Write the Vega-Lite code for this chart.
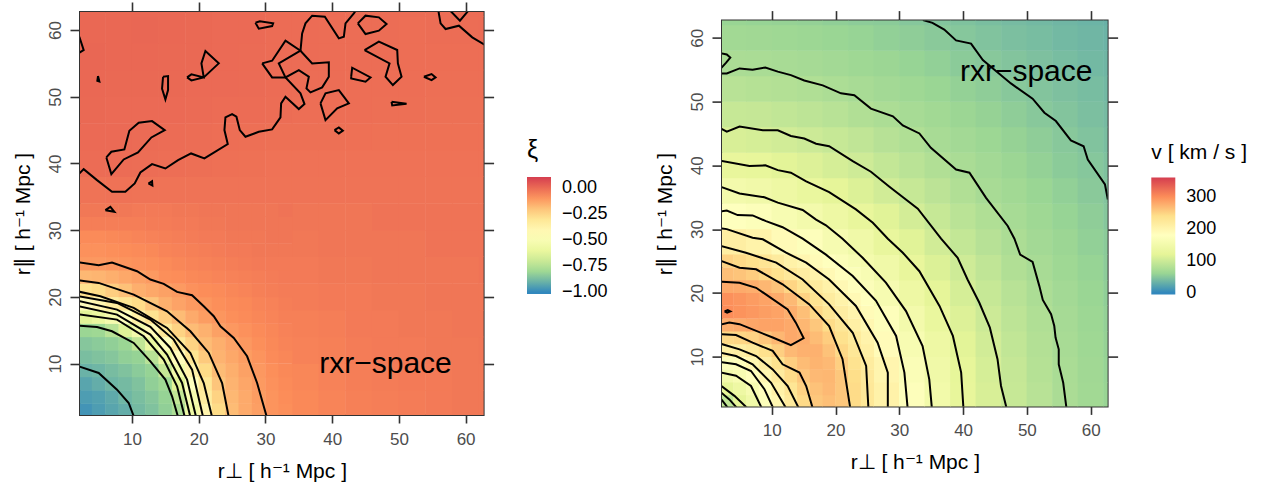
{"$schema":"https://vega.github.io/schema/vega-lite/v6.json","padding":{"left":11,"top":0,"right":0,"bottom":0},"background":"white","resolve":{"scale":{"color":"independent"},"legend":{"color":"independent"}},"hconcat":[{"width":403.6,"height":403,"layer":[
{"data":{"values":[
{"x":4,"y":36,"v":-0.015},{"x":8,"y":36,"v":-0.012},{"x":12,"y":36,"v":-0.015},{"x":16,"y":36,"v":-0.015},{"x":20,"y":36,"v":-0.015},{"x":24,"y":36,"v":-0.015},{"x":28,"y":36,"v":-0.015},{"x":32,"y":36,"v":-0.015},{"x":36,"y":36,"v":-0.015},{"x":40,"y":36,"v":-0.015},{"x":44,"y":36,"v":-0.015},{"x":48,"y":36,"v":-0.015},{"x":52,"y":36,"v":-0.015},{"x":56,"y":36,"v":-0.015},{"x":60,"y":36,"v":-0.015},{"x":64,"y":36,"v":-0.015},
{"x":4,"y":40,"v":0.002},{"x":8,"y":40,"v":0.002},{"x":12,"y":40,"v":0},{"x":16,"y":40,"v":-0.002},{"x":20,"y":40,"v":-0.005},{"x":24,"y":40,"v":-0.008},{"x":28,"y":40,"v":-0.01},{"x":32,"y":40,"v":-0.012},{"x":36,"y":40,"v":-0.012},{"x":40,"y":40,"v":-0.012},{"x":44,"y":40,"v":-0.012},{"x":48,"y":40,"v":-0.012},{"x":52,"y":40,"v":-0.012},{"x":56,"y":40,"v":-0.012},{"x":60,"y":40,"v":-0.012},{"x":64,"y":40,"v":-0.012},
{"x":4,"y":44,"v":0.008},{"x":8,"y":44,"v":0.006},{"x":12,"y":44,"v":0.004},{"x":16,"y":44,"v":0.003},{"x":20,"y":44,"v":0},{"x":24,"y":44,"v":-0.002},{"x":28,"y":44,"v":-0.005},{"x":32,"y":44,"v":-0.006},{"x":36,"y":44,"v":-0.006},{"x":40,"y":44,"v":-0.006},{"x":44,"y":44,"v":-0.008},{"x":48,"y":44,"v":-0.01},{"x":52,"y":44,"v":-0.01},{"x":56,"y":44,"v":-0.01},{"x":60,"y":44,"v":-0.01},{"x":64,"y":44,"v":-0.01},
{"x":4,"y":48,"v":0.01},{"x":8,"y":48,"v":0.008},{"x":12,"y":48,"v":0.008},{"x":16,"y":48,"v":0.006},{"x":20,"y":48,"v":0.004},{"x":24,"y":48,"v":0.003},{"x":28,"y":48,"v":0.002},{"x":32,"y":48,"v":0},{"x":36,"y":48,"v":-0.002},{"x":40,"y":48,"v":-0.002},{"x":44,"y":48,"v":-0.003},{"x":48,"y":48,"v":-0.005},{"x":52,"y":48,"v":-0.005},{"x":56,"y":48,"v":-0.006},{"x":60,"y":48,"v":-0.006},{"x":64,"y":48,"v":-0.006},
{"x":4,"y":52,"v":0.012},{"x":8,"y":52,"v":0.01},{"x":12,"y":52,"v":0.01},{"x":16,"y":52,"v":0.01},{"x":20,"y":52,"v":0.008},{"x":24,"y":52,"v":0.006},{"x":28,"y":52,"v":0.004},{"x":32,"y":52,"v":0.002},{"x":36,"y":52,"v":0},{"x":40,"y":52,"v":0},{"x":44,"y":52,"v":-0.002},{"x":48,"y":52,"v":-0.002},{"x":52,"y":52,"v":-0.003},{"x":56,"y":52,"v":-0.004},{"x":60,"y":52,"v":-0.004},{"x":64,"y":52,"v":-0.004},
{"x":4,"y":56,"v":0.014},{"x":8,"y":56,"v":0.012},{"x":12,"y":56,"v":0.012},{"x":16,"y":56,"v":0.01},{"x":20,"y":56,"v":0.01},{"x":24,"y":56,"v":0.006},{"x":28,"y":56,"v":0.004},{"x":32,"y":56,"v":0.003},{"x":36,"y":56,"v":0.002},{"x":40,"y":56,"v":0},{"x":44,"y":56,"v":0},{"x":48,"y":56,"v":-0.001},{"x":52,"y":56,"v":-0.002},{"x":56,"y":56,"v":-0.002},{"x":60,"y":56,"v":-0.002},{"x":64,"y":56,"v":-0.002},
{"x":4,"y":60,"v":0.012},{"x":8,"y":60,"v":0.012},{"x":12,"y":60,"v":0.014},{"x":16,"y":60,"v":0.012},{"x":20,"y":60,"v":0.01},{"x":24,"y":60,"v":0.006},{"x":28,"y":60,"v":0.006},{"x":32,"y":60,"v":0.003},{"x":36,"y":60,"v":0.002},{"x":40,"y":60,"v":0},{"x":44,"y":60,"v":0},{"x":48,"y":60,"v":0},{"x":52,"y":60,"v":-0.002},{"x":56,"y":60,"v":-0.001},{"x":60,"y":60,"v":0},{"x":64,"y":60,"v":0.002},
{"x":4,"y":64,"v":0.01},{"x":8,"y":64,"v":0.01},{"x":12,"y":64,"v":0.012},{"x":16,"y":64,"v":0.012},{"x":20,"y":64,"v":0.01},{"x":24,"y":64,"v":0.006},{"x":28,"y":64,"v":0.006},{"x":32,"y":64,"v":0.003},{"x":36,"y":64,"v":0.002},{"x":40,"y":64,"v":0.002},{"x":44,"y":64,"v":0},{"x":48,"y":64,"v":0},{"x":52,"y":64,"v":0},{"x":56,"y":64,"v":0},{"x":60,"y":64,"v":0.003},{"x":64,"y":64,"v":0.003},
{"x":36,"y":4,"v":-0.065},{"x":40,"y":4,"v":-0.055},{"x":44,"y":4,"v":-0.045},{"x":48,"y":4,"v":-0.04},{"x":52,"y":4,"v":-0.035},{"x":56,"y":4,"v":-0.03},{"x":60,"y":4,"v":-0.025},{"x":64,"y":4,"v":-0.025},
{"x":36,"y":8,"v":-0.06},{"x":40,"y":8,"v":-0.05},{"x":44,"y":8,"v":-0.04},{"x":48,"y":8,"v":-0.035},{"x":52,"y":8,"v":-0.03},{"x":56,"y":8,"v":-0.03},{"x":60,"y":8,"v":-0.025},{"x":64,"y":8,"v":-0.025},
{"x":36,"y":12,"v":-0.05},{"x":40,"y":12,"v":-0.045},{"x":44,"y":12,"v":-0.035},{"x":48,"y":12,"v":-0.03},{"x":52,"y":12,"v":-0.03},{"x":56,"y":12,"v":-0.025},{"x":60,"y":12,"v":-0.025},{"x":64,"y":12,"v":-0.02},
{"x":36,"y":16,"v":-0.045},{"x":40,"y":16,"v":-0.04},{"x":44,"y":16,"v":-0.03},{"x":48,"y":16,"v":-0.03},{"x":52,"y":16,"v":-0.025},{"x":56,"y":16,"v":-0.025},{"x":60,"y":16,"v":-0.02},{"x":64,"y":16,"v":-0.02},
{"x":36,"y":20,"v":-0.035},{"x":40,"y":20,"v":-0.03},{"x":44,"y":20,"v":-0.03},{"x":48,"y":20,"v":-0.025},{"x":52,"y":20,"v":-0.025},{"x":56,"y":20,"v":-0.02},{"x":60,"y":20,"v":-0.02},{"x":64,"y":20,"v":-0.02},
{"x":36,"y":24,"v":-0.03},{"x":40,"y":24,"v":-0.025},{"x":44,"y":24,"v":-0.025},{"x":48,"y":24,"v":-0.02},{"x":52,"y":24,"v":-0.02},{"x":56,"y":24,"v":-0.02},{"x":60,"y":24,"v":-0.02},{"x":64,"y":24,"v":-0.015},
{"x":36,"y":28,"v":-0.025},{"x":40,"y":28,"v":-0.02},{"x":44,"y":28,"v":-0.02},{"x":48,"y":28,"v":-0.02},{"x":52,"y":28,"v":-0.02},{"x":56,"y":28,"v":-0.015},{"x":60,"y":28,"v":-0.015},{"x":64,"y":28,"v":-0.015},
{"x":36,"y":32,"v":-0.02},{"x":40,"y":32,"v":-0.02},{"x":44,"y":32,"v":-0.02},{"x":48,"y":32,"v":-0.015},{"x":52,"y":32,"v":-0.015},{"x":56,"y":32,"v":-0.015},{"x":60,"y":32,"v":-0.015},{"x":64,"y":32,"v":-0.015}
]},"mark":{"type":"rect","width":27.2,"height":27.2,"clip":true},"encoding":{
"x":{"field":"x","type":"quantitative","scale":{"domain":[2.2,62.7],"nice":false,"zero":false},"axis":{"orient":"bottom","values":[10,20,30,40,50,60],"title":"r⊥ [ h⁻¹ Mpc ]","tickSize":8,"labelPadding":8,"titlePadding":13}},
"y":{"field":"y","type":"quantitative","scale":{"domain":[2.3,62.7],"nice":false,"zero":false},"axis":{"orient":"left","values":[10,20,30,40,50,60],"title":"r∥ [ h⁻¹ Mpc ]","labelAngle":-90,"labelAlign":"center","labelBaseline":"bottom","labelPadding":6,"titlePadding":13}},
"color":{"field":"v","type":"quantitative","scale":{"domain":[-1.017,-1,-0.815,-0.63,-0.445,-0.26,-0.075,0.11],"range":["#3288bd","#3288bd","#99d594","#e6f598","#ffffbf","#fee08b","#fc8d59","#d53e4f"],"interpolate":"rgb"},"legend":{"orient":"none","legendX":447,"legendY":126,"title":"ξ","values":[-1,-0.75,-0.5,-0.25,0],"format":".2f","gradientLength":117,"gradientThickness":24,"titleFontSize":25,"titleFontWeight":"normal","titlePadding":14,"labelFontSize":18,"labelColor":"#000000","titleColor":"#000000","labelOffset":11,"labelOverlap":false,"labelBaseline":"middle","titleFont":"Liberation Sans","labelFont":"Liberation Sans"}}}},
{"data":{"values":[
{"x":3,"y":3,"v":-0.97},{"x":5,"y":3,"v":-0.95},{"x":7,"y":3,"v":-0.93},{"x":9,"y":3,"v":-0.91},{"x":11,"y":3,"v":-0.88},{"x":13,"y":3,"v":-0.86},{"x":15,"y":3,"v":-0.83},{"x":17,"y":3,"v":-0.77},{"x":19,"y":3,"v":-0.57},{"x":21,"y":3,"v":-0.38},{"x":23,"y":3,"v":-0.25},{"x":25,"y":3,"v":-0.18},{"x":27,"y":3,"v":-0.14},{"x":29,"y":3,"v":-0.115},{"x":31,"y":3,"v":-0.09},{"x":33,"y":3,"v":-0.08},
{"x":3,"y":5,"v":-0.95},{"x":5,"y":5,"v":-0.94},{"x":7,"y":5,"v":-0.92},{"x":9,"y":5,"v":-0.89},{"x":11,"y":5,"v":-0.87},{"x":13,"y":5,"v":-0.85},{"x":15,"y":5,"v":-0.82},{"x":17,"y":5,"v":-0.72},{"x":19,"y":5,"v":-0.52},{"x":21,"y":5,"v":-0.33},{"x":23,"y":5,"v":-0.23},{"x":25,"y":5,"v":-0.17},{"x":27,"y":5,"v":-0.14},{"x":29,"y":5,"v":-0.11},{"x":31,"y":5,"v":-0.09},{"x":33,"y":5,"v":-0.075},
{"x":3,"y":7,"v":-0.93},{"x":5,"y":7,"v":-0.91},{"x":7,"y":7,"v":-0.89},{"x":9,"y":7,"v":-0.88},{"x":11,"y":7,"v":-0.86},{"x":13,"y":7,"v":-0.83},{"x":15,"y":7,"v":-0.8},{"x":17,"y":7,"v":-0.64},{"x":19,"y":7,"v":-0.45},{"x":21,"y":7,"v":-0.3},{"x":23,"y":7,"v":-0.2},{"x":25,"y":7,"v":-0.16},{"x":27,"y":7,"v":-0.13},{"x":29,"y":7,"v":-0.105},{"x":31,"y":7,"v":-0.085},{"x":33,"y":7,"v":-0.07},
{"x":3,"y":9,"v":-0.9},{"x":5,"y":9,"v":-0.89},{"x":7,"y":9,"v":-0.875},{"x":9,"y":9,"v":-0.86},{"x":11,"y":9,"v":-0.84},{"x":13,"y":9,"v":-0.82},{"x":15,"y":9,"v":-0.71},{"x":17,"y":9,"v":-0.54},{"x":19,"y":9,"v":-0.37},{"x":21,"y":9,"v":-0.25},{"x":23,"y":9,"v":-0.18},{"x":25,"y":9,"v":-0.15},{"x":27,"y":9,"v":-0.12},{"x":29,"y":9,"v":-0.1},{"x":31,"y":9,"v":-0.08},{"x":33,"y":9,"v":-0.065},
{"x":3,"y":11,"v":-0.87},{"x":5,"y":11,"v":-0.86},{"x":7,"y":11,"v":-0.85},{"x":9,"y":11,"v":-0.83},{"x":11,"y":11,"v":-0.82},{"x":13,"y":11,"v":-0.74},{"x":15,"y":11,"v":-0.59},{"x":17,"y":11,"v":-0.43},{"x":19,"y":11,"v":-0.29},{"x":21,"y":11,"v":-0.21},{"x":23,"y":11,"v":-0.16},{"x":25,"y":11,"v":-0.135},{"x":27,"y":11,"v":-0.11},{"x":29,"y":11,"v":-0.09},{"x":31,"y":11,"v":-0.07},{"x":33,"y":11,"v":-0.06},
{"x":3,"y":13,"v":-0.85},{"x":5,"y":13,"v":-0.84},{"x":7,"y":13,"v":-0.83},{"x":9,"y":13,"v":-0.81},{"x":11,"y":13,"v":-0.72},{"x":13,"y":13,"v":-0.59},{"x":15,"y":13,"v":-0.45},{"x":17,"y":13,"v":-0.31},{"x":19,"y":13,"v":-0.23},{"x":21,"y":13,"v":-0.18},{"x":23,"y":13,"v":-0.15},{"x":25,"y":13,"v":-0.125},{"x":27,"y":13,"v":-0.1},{"x":29,"y":13,"v":-0.08},{"x":31,"y":13,"v":-0.065},{"x":33,"y":13,"v":-0.055},
{"x":3,"y":15,"v":-0.81},{"x":5,"y":15,"v":-0.8},{"x":7,"y":15,"v":-0.74},{"x":9,"y":15,"v":-0.65},{"x":11,"y":15,"v":-0.54},{"x":13,"y":15,"v":-0.42},{"x":15,"y":15,"v":-0.31},{"x":17,"y":15,"v":-0.23},{"x":19,"y":15,"v":-0.18},{"x":21,"y":15,"v":-0.155},{"x":23,"y":15,"v":-0.12},{"x":25,"y":15,"v":-0.1},{"x":27,"y":15,"v":-0.085},{"x":29,"y":15,"v":-0.07},{"x":31,"y":15,"v":-0.06},{"x":33,"y":15,"v":-0.05},
{"x":3,"y":17,"v":-0.64},{"x":5,"y":17,"v":-0.59},{"x":7,"y":17,"v":-0.53},{"x":9,"y":17,"v":-0.45},{"x":11,"y":17,"v":-0.36},{"x":13,"y":17,"v":-0.28},{"x":15,"y":17,"v":-0.22},{"x":17,"y":17,"v":-0.18},{"x":19,"y":17,"v":-0.14},{"x":21,"y":17,"v":-0.11},{"x":23,"y":17,"v":-0.095},{"x":25,"y":17,"v":-0.08},{"x":27,"y":17,"v":-0.07},{"x":29,"y":17,"v":-0.06},{"x":31,"y":17,"v":-0.055},{"x":33,"y":17,"v":-0.045},
{"x":3,"y":19,"v":-0.43},{"x":5,"y":19,"v":-0.39},{"x":7,"y":19,"v":-0.33},{"x":9,"y":19,"v":-0.29},{"x":11,"y":19,"v":-0.25},{"x":13,"y":19,"v":-0.2},{"x":15,"y":19,"v":-0.15},{"x":17,"y":19,"v":-0.125},{"x":19,"y":19,"v":-0.105},{"x":21,"y":19,"v":-0.095},{"x":23,"y":19,"v":-0.08},{"x":25,"y":19,"v":-0.07},{"x":27,"y":19,"v":-0.065},{"x":29,"y":19,"v":-0.055},{"x":31,"y":19,"v":-0.05},{"x":33,"y":19,"v":-0.04},
{"x":3,"y":21,"v":-0.27},{"x":5,"y":21,"v":-0.25},{"x":7,"y":21,"v":-0.22},{"x":9,"y":21,"v":-0.19},{"x":11,"y":21,"v":-0.15},{"x":13,"y":21,"v":-0.135},{"x":15,"y":21,"v":-0.12},{"x":17,"y":21,"v":-0.105},{"x":19,"y":21,"v":-0.085},{"x":21,"y":21,"v":-0.075},{"x":23,"y":21,"v":-0.07},{"x":25,"y":21,"v":-0.06},{"x":27,"y":21,"v":-0.055},{"x":29,"y":21,"v":-0.045},{"x":31,"y":21,"v":-0.04},{"x":33,"y":21,"v":-0.035},
{"x":3,"y":23,"v":-0.17},{"x":5,"y":23,"v":-0.165},{"x":7,"y":23,"v":-0.15},{"x":9,"y":23,"v":-0.135},{"x":11,"y":23,"v":-0.12},{"x":13,"y":23,"v":-0.105},{"x":15,"y":23,"v":-0.08},{"x":17,"y":23,"v":-0.075},{"x":19,"y":23,"v":-0.065},{"x":21,"y":23,"v":-0.06},{"x":23,"y":23,"v":-0.055},{"x":25,"y":23,"v":-0.05},{"x":27,"y":23,"v":-0.045},{"x":29,"y":23,"v":-0.04},{"x":31,"y":23,"v":-0.035},{"x":33,"y":23,"v":-0.03},
{"x":3,"y":25,"v":-0.1},{"x":5,"y":25,"v":-0.1},{"x":7,"y":25,"v":-0.095},{"x":9,"y":25,"v":-0.09},{"x":11,"y":25,"v":-0.085},{"x":13,"y":25,"v":-0.08},{"x":15,"y":25,"v":-0.07},{"x":17,"y":25,"v":-0.06},{"x":19,"y":25,"v":-0.055},{"x":21,"y":25,"v":-0.05},{"x":23,"y":25,"v":-0.045},{"x":25,"y":25,"v":-0.04},{"x":27,"y":25,"v":-0.035},{"x":29,"y":25,"v":-0.03},{"x":31,"y":25,"v":-0.03},{"x":33,"y":25,"v":-0.03},
{"x":3,"y":27,"v":-0.085},{"x":5,"y":27,"v":-0.085},{"x":7,"y":27,"v":-0.08},{"x":9,"y":27,"v":-0.075},{"x":11,"y":27,"v":-0.07},{"x":13,"y":27,"v":-0.065},{"x":15,"y":27,"v":-0.055},{"x":17,"y":27,"v":-0.05},{"x":19,"y":27,"v":-0.045},{"x":21,"y":27,"v":-0.04},{"x":23,"y":27,"v":-0.035},{"x":25,"y":27,"v":-0.03},{"x":27,"y":27,"v":-0.03},{"x":29,"y":27,"v":-0.025},{"x":31,"y":27,"v":-0.025},{"x":33,"y":27,"v":-0.025},
{"x":3,"y":29,"v":-0.07},{"x":5,"y":29,"v":-0.07},{"x":7,"y":29,"v":-0.065},{"x":9,"y":29,"v":-0.06},{"x":11,"y":29,"v":-0.055},{"x":13,"y":29,"v":-0.05},{"x":15,"y":29,"v":-0.045},{"x":17,"y":29,"v":-0.04},{"x":19,"y":29,"v":-0.035},{"x":21,"y":29,"v":-0.03},{"x":23,"y":29,"v":-0.03},{"x":25,"y":29,"v":-0.025},{"x":27,"y":29,"v":-0.025},{"x":29,"y":29,"v":-0.025},{"x":31,"y":29,"v":-0.02},{"x":33,"y":29,"v":-0.02},
{"x":3,"y":31,"v":-0.04},{"x":5,"y":31,"v":-0.04},{"x":7,"y":31,"v":-0.04},{"x":9,"y":31,"v":-0.04},{"x":11,"y":31,"v":-0.04},{"x":13,"y":31,"v":-0.035},{"x":15,"y":31,"v":-0.035},{"x":17,"y":31,"v":-0.03},{"x":19,"y":31,"v":-0.03},{"x":21,"y":31,"v":-0.025},{"x":23,"y":31,"v":-0.025},{"x":25,"y":31,"v":-0.02},{"x":27,"y":31,"v":-0.02},{"x":29,"y":31,"v":-0.02},{"x":31,"y":31,"v":-0.02},{"x":33,"y":31,"v":-0.02},
{"x":3,"y":33,"v":-0.025},{"x":5,"y":33,"v":-0.025},{"x":7,"y":33,"v":-0.025},{"x":9,"y":33,"v":-0.025},{"x":11,"y":33,"v":-0.03},{"x":13,"y":33,"v":-0.03},{"x":15,"y":33,"v":-0.03},{"x":17,"y":33,"v":-0.025},{"x":19,"y":33,"v":-0.025},{"x":21,"y":33,"v":-0.02},{"x":23,"y":33,"v":-0.02},{"x":25,"y":33,"v":-0.02},{"x":27,"y":33,"v":-0.02},{"x":29,"y":33,"v":-0.02},{"x":31,"y":33,"v":-0.02},{"x":33,"y":33,"v":-0.015}
]},"mark":{"type":"rect","width":13.8,"height":13.8,"clip":true},"encoding":{"x":{"field":"x","type":"quantitative","axis":null},"y":{"field":"y","type":"quantitative","axis":null},"color":{"field":"v","type":"quantitative","legend":null}}},
{"data":{"values":[
{"g":"m","o":1,"x":2,"y":38.4},{"g":"m","o":2,"x":2.75,"y":39.15},{"g":"m","o":3,"x":4.75,"y":37.5},{"g":"m","o":4,"x":7,"y":35.75},{"g":"m","o":5,"x":9,"y":35.75},{"g":"m","o":6,"x":10.4,"y":37},{"g":"m","o":7,"x":11.25,"y":38.65},{"g":"m","o":8,"x":13,"y":39.9},{"g":"m","o":9,"x":15,"y":39.25},{"g":"m","o":10,"x":16.9,"y":40.5},{"g":"m","o":11,"x":18.85,"y":41.5},{"g":"m","o":12,"x":20.85,"y":40.75},{"g":"m","o":13,"x":24.35,"y":42.9},{"g":"m","o":14,"x":23.85,"y":45},{"g":"m","o":15,"x":24,"y":46.9},{"g":"m","o":16,"x":25,"y":47.4},{"g":"m","o":17,"x":25.65,"y":47},{"g":"m","o":18,"x":26.15,"y":45},{"g":"m","o":19,"x":27,"y":44},{"g":"m","o":20,"x":29,"y":44.75},{"g":"m","o":21,"x":31,"y":45.1},{"g":"m","o":22,"x":32.25,"y":46.9},{"g":"m","o":23,"x":32.35,"y":49},{"g":"m","o":24,"x":33,"y":50},{"g":"m","o":25,"x":35,"y":48.15},{"g":"m","o":26,"x":35.85,"y":48.9},{"g":"m","o":27,"x":35.25,"y":50.5},{"g":"m","o":28,"x":33,"y":52.9},{"g":"m","o":29,"x":32,"y":55},{"g":"m","o":30,"x":35.25,"y":56.9},{"g":"m","o":31,"x":35.5,"y":59.5},{"g":"m","o":32,"x":36,"y":61},{"g":"m","o":33,"x":37,"y":62.15},{"g":"m","o":34,"x":38.9,"y":62},{"g":"m","o":35,"x":41,"y":58.75},{"g":"m","o":36,"x":41.75,"y":59},{"g":"m","o":37,"x":42,"y":61},{"g":"m","o":38,"x":43.25,"y":62.5},{"g":"m","o":39,"x":43.6,"y":63},
{"g":"a","o":1,"x":2.1,"y":59},{"g":"a","o":2,"x":2.75,"y":57},{"g":"a","o":3,"x":2.1,"y":56.6},
{"g":"b","o":1,"x":4.9,"y":53.1},{"g":"b","o":2,"x":5.1,"y":52.3},{"g":"b","o":3,"x":4.8,"y":52.4},{"g":"b","o":4,"x":4.9,"y":53.1},
{"g":"c","o":1,"x":14.65,"y":53},{"g":"c","o":2,"x":15.4,"y":53.1},{"g":"c","o":3,"x":15.4,"y":51},{"g":"c","o":4,"x":15,"y":49.6},{"g":"c","o":5,"x":14.5,"y":51.2},{"g":"c","o":6,"x":14.65,"y":53},
{"g":"d","o":1,"x":18.25,"y":52.9},{"g":"d","o":2,"x":18.9,"y":53.35},{"g":"d","o":3,"x":20.75,"y":52.9},{"g":"d","o":4,"x":20.4,"y":55},{"g":"d","o":5,"x":21,"y":56.85},{"g":"d","o":6,"x":23,"y":55},{"g":"d","o":7,"x":20.75,"y":52.9},{"g":"d","o":8,"x":18.9,"y":52.45},{"g":"d","o":9,"x":18.25,"y":52.9},
{"g":"e","o":1,"x":28.5,"y":61.1},{"g":"e","o":2,"x":29.15,"y":61.3},{"g":"e","o":3,"x":31.15,"y":61},{"g":"e","o":4,"x":31,"y":60.6},{"g":"e","o":5,"x":29,"y":60.2},{"g":"e","o":6,"x":28.5,"y":61.1},
{"g":"f","o":1,"x":29.5,"y":55},{"g":"f","o":2,"x":31,"y":55.4},{"g":"f","o":3,"x":33,"y":58.4},{"g":"f","o":4,"x":35.25,"y":56.9},{"g":"f","o":5,"x":37,"y":55},{"g":"f","o":6,"x":39.5,"y":55.15},{"g":"f","o":7,"x":39.5,"y":53},{"g":"f","o":8,"x":38.5,"y":51.4},{"g":"f","o":9,"x":36.75,"y":50.65},{"g":"f","o":10,"x":36.15,"y":51.25},{"g":"f","o":11,"x":36.5,"y":53},{"g":"f","o":12,"x":35,"y":54},{"g":"f","o":13,"x":33,"y":52.9},{"g":"f","o":14,"x":31,"y":52.9},{"g":"f","o":15,"x":29.5,"y":55},
{"g":"h","o":1,"x":38.25,"y":49},{"g":"h","o":2,"x":39,"y":50.5},{"g":"h","o":3,"x":41,"y":51},{"g":"h","o":4,"x":42.5,"y":49},{"g":"h","o":5,"x":40.75,"y":48.25},{"g":"h","o":6,"x":39,"y":46.5},{"g":"h","o":7,"x":38.25,"y":49},
{"g":"i","o":1,"x":40.35,"y":45},{"g":"i","o":2,"x":41,"y":45.4},{"g":"i","o":3,"x":41.6,"y":44.9},{"g":"i","o":4,"x":41,"y":44.5},{"g":"i","o":5,"x":40.35,"y":45},
{"g":"j","o":1,"x":43.85,"y":61},{"g":"j","o":2,"x":45,"y":62.15},{"g":"j","o":3,"x":47,"y":61.9},{"g":"j","o":4,"x":48.15,"y":60.9},{"g":"j","o":5,"x":47,"y":59.9},{"g":"j","o":6,"x":45,"y":59.4},{"g":"j","o":7,"x":43.85,"y":61},
{"g":"k","o":1,"x":42.85,"y":53},{"g":"k","o":2,"x":43,"y":54.35},{"g":"k","o":3,"x":45.75,"y":52.9},{"g":"k","o":4,"x":45,"y":52.25},{"g":"k","o":5,"x":42.85,"y":52.75},{"g":"k","o":6,"x":42.85,"y":53},
{"g":"l","o":1,"x":44.85,"y":57},{"g":"l","o":2,"x":47,"y":58.25},{"g":"l","o":3,"x":49.75,"y":57},{"g":"l","o":4,"x":49.85,"y":55},{"g":"l","o":5,"x":50.4,"y":53},{"g":"l","o":6,"x":49.1,"y":51.75},{"g":"l","o":7,"x":48,"y":53},{"g":"l","o":8,"x":48.6,"y":55},{"g":"l","o":9,"x":44.85,"y":57},
{"g":"n","o":1,"x":53.75,"y":53},{"g":"n","o":2,"x":54.9,"y":53.4},{"g":"n","o":3,"x":55.5,"y":52.9},{"g":"n","o":4,"x":54.9,"y":52.5},{"g":"n","o":5,"x":53.75,"y":53},
{"g":"p","o":1,"x":48.9,"y":49.25},{"g":"p","o":2,"x":51.15,"y":48.95},{"g":"p","o":3,"x":49,"y":48.7},{"g":"p","o":4,"x":48.9,"y":49.25},
{"g":"q","o":1,"x":55.9,"y":63},{"g":"q","o":2,"x":56.25,"y":61},{"g":"q","o":3,"x":57,"y":60.15},{"g":"q","o":4,"x":59,"y":60.65},{"g":"q","o":5,"x":61,"y":58.9},{"g":"q","o":6,"x":63,"y":57.7},
{"g":"r","o":1,"x":57.6,"y":63},{"g":"r","o":2,"x":59.15,"y":61.4},{"g":"r","o":3,"x":60.5,"y":63},
{"g":"s","o":1,"x":6.15,"y":40.9},{"g":"s","o":2,"x":6.9,"y":41.75},{"g":"s","o":3,"x":8.85,"y":42.1},{"g":"s","o":4,"x":9.6,"y":44.9},{"g":"s","o":5,"x":11,"y":46.1},{"g":"s","o":6,"x":13,"y":46.35},{"g":"s","o":7,"x":14.9,"y":45},{"g":"s","o":8,"x":12.9,"y":43.9},{"g":"s","o":9,"x":10.9,"y":41.65},{"g":"s","o":10,"x":8.75,"y":40.6},{"g":"s","o":11,"x":6.9,"y":38.4},{"g":"s","o":12,"x":6.15,"y":40.9},
{"g":"t","o":1,"x":12.45,"y":37},{"g":"t","o":2,"x":13,"y":37.35},{"g":"t","o":3,"x":13.05,"y":36.7},{"g":"t","o":4,"x":12.45,"y":37},
{"g":"u","o":1,"x":6,"y":33},{"g":"u","o":2,"x":6.75,"y":33.5},{"g":"u","o":3,"x":7.35,"y":32.75},{"g":"u","o":4,"x":6,"y":33},
{"g":"L1","o":1,"x":2,"y":25.2},{"g":"L1","o":2,"x":5,"y":24.75},{"g":"L1","o":3,"x":7,"y":25.15},{"g":"L1","o":4,"x":10.75,"y":23.85},{"g":"L1","o":5,"x":12.75,"y":22.6},{"g":"L1","o":6,"x":14.75,"y":21.95},{"g":"L1","o":7,"x":16.75,"y":20.75},{"g":"L1","o":8,"x":19,"y":20.25},{"g":"L1","o":9,"x":20.75,"y":18.6},{"g":"L1","o":10,"x":22.25,"y":17.1},{"g":"L1","o":11,"x":23.25,"y":15.6},{"g":"L1","o":12,"x":25.25,"y":13.85},{"g":"L1","o":13,"x":27.25,"y":11.1},{"g":"L1","o":14,"x":28.75,"y":7.1},{"g":"L1","o":15,"x":30.2,"y":2},
{"g":"L2","o":1,"x":2,"y":22.5},{"g":"L2","o":2,"x":5,"y":22.1},{"g":"L2","o":3,"x":10.25,"y":20.35},{"g":"L2","o":4,"x":15.25,"y":17.85},{"g":"L2","o":5,"x":18.75,"y":14.85},{"g":"L2","o":6,"x":21.5,"y":11.6},{"g":"L2","o":7,"x":23.5,"y":7.1},{"g":"L2","o":8,"x":24.5,"y":2},
{"g":"L3","o":1,"x":2,"y":20.8},{"g":"L3","o":2,"x":5.25,"y":20.1},{"g":"L3","o":3,"x":10.25,"y":18.35},{"g":"L3","o":4,"x":15.25,"y":15.35},{"g":"L3","o":5,"x":18.75,"y":11.6},{"g":"L3","o":6,"x":20.75,"y":7.1},{"g":"L3","o":7,"x":22,"y":2},
{"g":"L4","o":1,"x":2,"y":20.1},{"g":"L4","o":2,"x":7.75,"y":19.1},{"g":"L4","o":3,"x":12.75,"y":16.6},{"g":"L4","o":4,"x":16.25,"y":13.6},{"g":"L4","o":5,"x":19,"y":9.1},{"g":"L4","o":6,"x":20.65,"y":2},
{"g":"L5","o":1,"x":2,"y":19.4},{"g":"L5","o":2,"x":7.75,"y":18.1},{"g":"L5","o":3,"x":12.75,"y":15.5},{"g":"L5","o":4,"x":15.75,"y":12.35},{"g":"L5","o":5,"x":18.25,"y":7.6},{"g":"L5","o":6,"x":19.6,"y":2},
{"g":"L6","o":1,"x":2,"y":18.6},{"g":"L6","o":2,"x":7.75,"y":17.35},{"g":"L6","o":3,"x":12.75,"y":14.35},{"g":"L6","o":4,"x":15.25,"y":11.35},{"g":"L6","o":5,"x":17.5,"y":7.1},{"g":"L6","o":6,"x":18.75,"y":2},
{"g":"L7","o":1,"x":2,"y":17.4},{"g":"L7","o":2,"x":7.75,"y":16.6},{"g":"L7","o":3,"x":11.75,"y":14.1},{"g":"L7","o":4,"x":14.75,"y":10.6},{"g":"L7","o":5,"x":16.75,"y":6.6},{"g":"L7","o":6,"x":17.9,"y":2},
{"g":"L8","o":1,"x":2,"y":15.7},{"g":"L8","o":2,"x":4.75,"y":15.5},{"g":"L8","o":3,"x":7,"y":14.85},{"g":"L8","o":4,"x":10.25,"y":13.1},{"g":"L8","o":5,"x":12.75,"y":10.35},{"g":"L8","o":6,"x":15,"y":7.6},{"g":"L8","o":7,"x":16,"y":5.1},{"g":"L8","o":8,"x":16.9,"y":2},
{"g":"L9","o":1,"x":2,"y":9.6},{"g":"L9","o":2,"x":5,"y":8.6},{"g":"L9","o":3,"x":7.75,"y":6.1},{"g":"L9","o":4,"x":9.5,"y":4.1},{"g":"L9","o":5,"x":10.3,"y":2}
]},"mark":{"type":"line","color":"#000000","strokeWidth":2,"clip":true},"encoding":{"x":{"field":"x","type":"quantitative","axis":{"orient":"top","values":[10,20,30,40,50,60],"labels":false,"title":null}},"y":{"field":"y","type":"quantitative","axis":{"orient":"right","values":[10,20,30,40,50,60],"labels":false,"title":null}},"detail":{"field":"g"},"order":{"field":"o","type":"quantitative"}}},
{"data":{"values":[{"x":48,"y":9.9,"t":"rxr−space"}]},"mark":{"type":"text","fontSize":30,"font":"Liberation Sans","color":"#000000"},"encoding":{"x":{"field":"x","type":"quantitative","axis":null},"y":{"field":"y","type":"quantitative","axis":null},"text":{"field":"t"}}}
],"resolve":{"axis":{"x":"independent","y":"independent"}}},
{"width":385.6,"height":385.8,"layer":[
{"data":{"values":[
{"x":28,"y":4,"v":205},{"x":32,"y":4,"v":174},{"x":36,"y":4,"v":148},{"x":40,"y":4,"v":125},{"x":44,"y":4,"v":109},{"x":48,"y":4,"v":95},{"x":52,"y":4,"v":84},{"x":56,"y":4,"v":74},{"x":60,"y":4,"v":67},{"x":64,"y":4,"v":60},
{"x":28,"y":8,"v":199},{"x":32,"y":8,"v":168},{"x":36,"y":8,"v":144},{"x":40,"y":8,"v":123},{"x":44,"y":8,"v":107},{"x":48,"y":8,"v":94},{"x":52,"y":8,"v":82},{"x":56,"y":8,"v":73},{"x":60,"y":8,"v":66},{"x":64,"y":8,"v":59},
{"x":28,"y":12,"v":187},{"x":32,"y":12,"v":160},{"x":36,"y":12,"v":138},{"x":40,"y":12,"v":118},{"x":44,"y":12,"v":104},{"x":48,"y":12,"v":91},{"x":52,"y":12,"v":80},{"x":56,"y":12,"v":72},{"x":60,"y":12,"v":65},{"x":64,"y":12,"v":58},
{"x":28,"y":16,"v":174},{"x":32,"y":16,"v":150},{"x":36,"y":16,"v":129},{"x":40,"y":16,"v":113},{"x":44,"y":16,"v":100},{"x":48,"y":16,"v":88},{"x":52,"y":16,"v":78},{"x":56,"y":16,"v":70},{"x":60,"y":16,"v":63},{"x":64,"y":16,"v":57},
{"x":28,"y":20,"v":158},{"x":32,"y":20,"v":139},{"x":36,"y":20,"v":121},{"x":40,"y":20,"v":107},{"x":44,"y":20,"v":95},{"x":48,"y":20,"v":84},{"x":52,"y":20,"v":75},{"x":56,"y":20,"v":68},{"x":60,"y":20,"v":61},{"x":64,"y":20,"v":55},
{"x":28,"y":24,"v":144},{"x":32,"y":24,"v":126},{"x":36,"y":24,"v":112},{"x":40,"y":24,"v":101},{"x":44,"y":24,"v":90},{"x":48,"y":24,"v":79},{"x":52,"y":24,"v":72},{"x":56,"y":24,"v":65},{"x":60,"y":24,"v":59},{"x":64,"y":24,"v":53},
{"x":4,"y":28,"v":212},{"x":8,"y":28,"v":204},{"x":12,"y":28,"v":189},{"x":16,"y":28,"v":174},{"x":20,"y":28,"v":158},{"x":24,"y":28,"v":144},{"x":28,"y":28,"v":128},{"x":32,"y":28,"v":116},{"x":36,"y":28,"v":104},{"x":40,"y":28,"v":93},{"x":44,"y":28,"v":83},{"x":48,"y":28,"v":75},{"x":52,"y":28,"v":68},{"x":56,"y":28,"v":62},{"x":60,"y":28,"v":56},{"x":64,"y":28,"v":52},
{"x":4,"y":32,"v":178},{"x":8,"y":32,"v":172},{"x":12,"y":32,"v":160},{"x":16,"y":32,"v":150},{"x":20,"y":32,"v":139},{"x":24,"y":32,"v":126},{"x":28,"y":32,"v":116},{"x":32,"y":32,"v":105},{"x":36,"y":32,"v":95},{"x":40,"y":32,"v":86},{"x":44,"y":32,"v":78},{"x":48,"y":32,"v":71},{"x":52,"y":32,"v":65},{"x":56,"y":32,"v":59},{"x":60,"y":32,"v":54},{"x":64,"y":32,"v":49},
{"x":4,"y":36,"v":150},{"x":8,"y":36,"v":146},{"x":12,"y":36,"v":138},{"x":16,"y":36,"v":129},{"x":20,"y":36,"v":121},{"x":24,"y":36,"v":112},{"x":28,"y":36,"v":104},{"x":32,"y":36,"v":95},{"x":36,"y":36,"v":87},{"x":40,"y":36,"v":79},{"x":44,"y":36,"v":72},{"x":48,"y":36,"v":67},{"x":52,"y":36,"v":61},{"x":56,"y":36,"v":56},{"x":60,"y":36,"v":51},{"x":64,"y":36,"v":47},
{"x":4,"y":40,"v":126},{"x":8,"y":40,"v":124},{"x":12,"y":40,"v":118},{"x":16,"y":40,"v":113},{"x":20,"y":40,"v":107},{"x":24,"y":40,"v":101},{"x":28,"y":40,"v":93},{"x":32,"y":40,"v":86},{"x":36,"y":40,"v":79},{"x":40,"y":40,"v":73},{"x":44,"y":40,"v":68},{"x":48,"y":40,"v":62},{"x":52,"y":40,"v":57},{"x":56,"y":40,"v":52},{"x":60,"y":40,"v":49},{"x":64,"y":40,"v":45},
{"x":4,"y":44,"v":109},{"x":8,"y":44,"v":107},{"x":12,"y":44,"v":104},{"x":16,"y":44,"v":100},{"x":20,"y":44,"v":95},{"x":24,"y":44,"v":90},{"x":28,"y":44,"v":83},{"x":32,"y":44,"v":78},{"x":36,"y":44,"v":72},{"x":40,"y":44,"v":68},{"x":44,"y":44,"v":63},{"x":48,"y":44,"v":58},{"x":52,"y":44,"v":54},{"x":56,"y":44,"v":50},{"x":60,"y":44,"v":46},{"x":64,"y":44,"v":42},
{"x":4,"y":48,"v":95},{"x":8,"y":48,"v":94},{"x":12,"y":48,"v":91},{"x":16,"y":48,"v":88},{"x":20,"y":48,"v":84},{"x":24,"y":48,"v":79},{"x":28,"y":48,"v":75},{"x":32,"y":48,"v":71},{"x":36,"y":48,"v":67},{"x":40,"y":48,"v":62},{"x":44,"y":48,"v":58},{"x":48,"y":48,"v":54},{"x":52,"y":48,"v":50},{"x":56,"y":48,"v":47},{"x":60,"y":48,"v":43},{"x":64,"y":48,"v":40},
{"x":4,"y":52,"v":84},{"x":8,"y":52,"v":82},{"x":12,"y":52,"v":80},{"x":16,"y":52,"v":78},{"x":20,"y":52,"v":75},{"x":24,"y":52,"v":72},{"x":28,"y":52,"v":68},{"x":32,"y":52,"v":65},{"x":36,"y":52,"v":61},{"x":40,"y":52,"v":57},{"x":44,"y":52,"v":54},{"x":48,"y":52,"v":50},{"x":52,"y":52,"v":47},{"x":56,"y":52,"v":44},{"x":60,"y":52,"v":41},{"x":64,"y":52,"v":38},
{"x":4,"y":56,"v":74},{"x":8,"y":56,"v":73},{"x":12,"y":56,"v":72},{"x":16,"y":56,"v":70},{"x":20,"y":56,"v":68},{"x":24,"y":56,"v":65},{"x":28,"y":56,"v":62},{"x":32,"y":56,"v":59},{"x":36,"y":56,"v":56},{"x":40,"y":56,"v":52},{"x":44,"y":56,"v":50},{"x":48,"y":56,"v":47},{"x":52,"y":56,"v":44},{"x":56,"y":56,"v":41},{"x":60,"y":56,"v":38},{"x":64,"y":56,"v":36},
{"x":4,"y":60,"v":67},{"x":8,"y":60,"v":66},{"x":12,"y":60,"v":65},{"x":16,"y":60,"v":63},{"x":20,"y":60,"v":61},{"x":24,"y":60,"v":59},{"x":28,"y":60,"v":56},{"x":32,"y":60,"v":54},{"x":36,"y":60,"v":51},{"x":40,"y":60,"v":49},{"x":44,"y":60,"v":46},{"x":48,"y":60,"v":43},{"x":52,"y":60,"v":41},{"x":56,"y":60,"v":38},{"x":60,"y":60,"v":36},{"x":64,"y":60,"v":34},
{"x":4,"y":64,"v":60},{"x":8,"y":64,"v":59},{"x":12,"y":64,"v":58},{"x":16,"y":64,"v":57},{"x":20,"y":64,"v":55},{"x":24,"y":64,"v":53},{"x":28,"y":64,"v":52},{"x":32,"y":64,"v":49},{"x":36,"y":64,"v":47},{"x":40,"y":64,"v":45},{"x":44,"y":64,"v":42},{"x":48,"y":64,"v":40},{"x":52,"y":64,"v":38},{"x":56,"y":64,"v":36},{"x":60,"y":64,"v":34},{"x":64,"y":64,"v":32}
]},"mark":{"type":"rect","width":26,"height":26,"clip":true},"encoding":{
"x":{"field":"x","type":"quantitative","scale":{"domain":[2.2,62.66],"nice":false,"zero":false},"axis":{"orient":"bottom","values":[10,20,30,40,50,60],"title":"r⊥ [ h⁻¹ Mpc ]","tickSize":8,"labelPadding":8,"titlePadding":13}},
"y":{"field":"y","type":"quantitative","scale":{"domain":[2.2,62.7],"nice":false,"zero":false},"axis":{"orient":"left","values":[10,20,30,40,50,60],"title":"r∥ [ h⁻¹ Mpc ]","labelAngle":-90,"labelAlign":"center","labelBaseline":"bottom","labelPadding":6,"titlePadding":13}},
"color":{"field":"v","type":"quantitative","scale":{"domain":[-6,0,60,120,180,240,300,360],"range":["#3288bd","#3288bd","#99d594","#e6f598","#ffffbf","#fee08b","#fc8d59","#d53e4f"],"interpolate":"rgb"},"legend":{"orient":"none","legendX":429.3,"legendY":121,"title":"v [ km / s ]","values":[0,100,200,300],"gradientLength":117,"gradientThickness":24,"titleFontSize":21,"titleFontWeight":"normal","titlePadding":15,"labelFontSize":18,"labelColor":"#000000","titleColor":"#000000","labelOffset":11,"labelOverlap":false,"labelBaseline":"middle","titleFont":"Liberation Sans","labelFont":"Liberation Sans"}}}},
{"data":{"values":[
{"x":3,"y":3,"v":90},{"x":5,"y":3,"v":122},{"x":7,"y":3,"v":145},{"x":9,"y":3,"v":172},{"x":11,"y":3,"v":196},{"x":13,"y":3,"v":222},{"x":15,"y":3,"v":244},{"x":17,"y":3,"v":258},{"x":19,"y":3,"v":264},{"x":21,"y":3,"v":258},{"x":23,"y":3,"v":243},{"x":25,"y":3,"v":225},
{"x":3,"y":5,"v":122},{"x":5,"y":5,"v":138},{"x":7,"y":5,"v":158},{"x":9,"y":5,"v":182},{"x":11,"y":5,"v":206},{"x":13,"y":5,"v":229},{"x":15,"y":5,"v":250},{"x":17,"y":5,"v":262},{"x":19,"y":5,"v":268},{"x":21,"y":5,"v":258},{"x":23,"y":5,"v":243},{"x":25,"y":5,"v":224},
{"x":3,"y":7,"v":150},{"x":5,"y":7,"v":160},{"x":7,"y":7,"v":177},{"x":9,"y":7,"v":196},{"x":11,"y":7,"v":218},{"x":13,"y":7,"v":243},{"x":15,"y":7,"v":258},{"x":17,"y":7,"v":268},{"x":19,"y":7,"v":270},{"x":21,"y":7,"v":258},{"x":23,"y":7,"v":241},{"x":25,"y":7,"v":222},
{"x":3,"y":9,"v":176},{"x":5,"y":9,"v":184},{"x":7,"y":9,"v":197},{"x":9,"y":9,"v":214},{"x":11,"y":9,"v":235},{"x":13,"y":9,"v":253},{"x":15,"y":9,"v":266},{"x":17,"y":9,"v":272},{"x":19,"y":9,"v":268},{"x":21,"y":9,"v":252},{"x":23,"y":9,"v":234},{"x":25,"y":9,"v":217},
{"x":3,"y":11,"v":210},{"x":5,"y":11,"v":212},{"x":7,"y":11,"v":220},{"x":9,"y":11,"v":236},{"x":11,"y":11,"v":252},{"x":13,"y":11,"v":268},{"x":15,"y":11,"v":274},{"x":17,"y":11,"v":274},{"x":19,"y":11,"v":262},{"x":21,"y":11,"v":245},{"x":23,"y":11,"v":226},{"x":25,"y":11,"v":210},
{"x":3,"y":13,"v":245},{"x":5,"y":13,"v":247},{"x":7,"y":13,"v":250},{"x":9,"y":13,"v":258},{"x":11,"y":13,"v":270},{"x":13,"y":13,"v":280},{"x":15,"y":13,"v":276},{"x":17,"y":13,"v":266},{"x":19,"y":13,"v":254},{"x":21,"y":13,"v":236},{"x":23,"y":13,"v":221},{"x":25,"y":13,"v":203},
{"x":3,"y":15,"v":276},{"x":5,"y":15,"v":278},{"x":7,"y":15,"v":282},{"x":9,"y":15,"v":284},{"x":11,"y":15,"v":284},{"x":13,"y":15,"v":280},{"x":15,"y":15,"v":270},{"x":17,"y":15,"v":258},{"x":19,"y":15,"v":242},{"x":21,"y":15,"v":226},{"x":23,"y":15,"v":210},{"x":25,"y":15,"v":196},
{"x":3,"y":17,"v":300},{"x":5,"y":17,"v":296},{"x":7,"y":17,"v":292},{"x":9,"y":17,"v":288},{"x":11,"y":17,"v":284},{"x":13,"y":17,"v":276},{"x":15,"y":17,"v":264},{"x":17,"y":17,"v":246},{"x":19,"y":17,"v":229},{"x":21,"y":17,"v":214},{"x":23,"y":17,"v":201},{"x":25,"y":17,"v":188},
{"x":3,"y":19,"v":298},{"x":5,"y":19,"v":294},{"x":7,"y":19,"v":289},{"x":9,"y":19,"v":284},{"x":11,"y":19,"v":278},{"x":13,"y":19,"v":268},{"x":15,"y":19,"v":250},{"x":17,"y":19,"v":232},{"x":19,"y":19,"v":217},{"x":21,"y":19,"v":204},{"x":23,"y":19,"v":192},{"x":25,"y":19,"v":179},
{"x":3,"y":21,"v":280},{"x":5,"y":21,"v":279},{"x":7,"y":21,"v":276},{"x":9,"y":21,"v":270},{"x":11,"y":21,"v":262},{"x":13,"y":21,"v":248},{"x":15,"y":21,"v":232},{"x":17,"y":21,"v":218},{"x":19,"y":21,"v":205},{"x":21,"y":21,"v":193},{"x":23,"y":21,"v":182},{"x":25,"y":21,"v":170},
{"x":3,"y":23,"v":264},{"x":5,"y":23,"v":260},{"x":7,"y":23,"v":254},{"x":9,"y":23,"v":246},{"x":11,"y":23,"v":235},{"x":13,"y":23,"v":224},{"x":15,"y":23,"v":214},{"x":17,"y":23,"v":203},{"x":19,"y":23,"v":192},{"x":21,"y":23,"v":181},{"x":23,"y":23,"v":171},{"x":25,"y":23,"v":161},
{"x":3,"y":25,"v":250},{"x":5,"y":25,"v":244},{"x":7,"y":25,"v":238},{"x":9,"y":25,"v":230},{"x":11,"y":25,"v":218},{"x":13,"y":25,"v":206},{"x":15,"y":25,"v":197},{"x":17,"y":25,"v":188},{"x":19,"y":25,"v":179},{"x":21,"y":25,"v":170},{"x":23,"y":25,"v":161},{"x":25,"y":25,"v":153}
]},"mark":{"type":"rect","width":13.2,"height":13.2,"clip":true},"encoding":{"x":{"field":"x","type":"quantitative","axis":null},"y":{"field":"y","type":"quantitative","axis":null},"color":{"field":"v","type":"quantitative","legend":null}}},
{"data":{"values":[
{"g":"A","o":1,"x":33.7,"y":62.8},{"g":"A","o":2,"x":35.2,"y":62.35},{"g":"A","o":3,"x":37.05,"y":61.3},{"g":"A","o":4,"x":38.9,"y":59.6},{"g":"A","o":5,"x":41.25,"y":59.1},{"g":"A","o":6,"x":43.1,"y":56.5},{"g":"A","o":7,"x":45.15,"y":54.8},{"g":"A","o":8,"x":47.5,"y":52.85},{"g":"A","o":9,"x":50.9,"y":50.45},{"g":"A","o":10,"x":52.75,"y":48.25},{"g":"A","o":11,"x":54.55,"y":46.95},{"g":"A","o":12,"x":56.9,"y":43.9},{"g":"A","o":13,"x":58.9,"y":43},{"g":"A","o":14,"x":59.55,"y":40.9},{"g":"A","o":15,"x":62.25,"y":37},{"g":"A","o":16,"x":62.7,"y":34.65},
{"g":"B","o":1,"x":2.1,"y":54.4},{"g":"B","o":2,"x":2.95,"y":54.4},{"g":"B","o":3,"x":4.95,"y":55.2},{"g":"B","o":4,"x":7,"y":55},{"g":"B","o":5,"x":9,"y":55.35},{"g":"B","o":6,"x":10.95,"y":54.7},{"g":"B","o":7,"x":13,"y":54.15},{"g":"B","o":8,"x":15.1,"y":53.3},{"g":"B","o":9,"x":18,"y":52.55},{"g":"B","o":10,"x":20.85,"y":51.3},{"g":"B","o":11,"x":22.95,"y":51},{"g":"B","o":12,"x":25.55,"y":48.9},{"g":"B","o":13,"x":29,"y":47.7},{"g":"B","o":14,"x":30.55,"y":46.25},{"g":"B","o":15,"x":33.15,"y":45},{"g":"B","o":16,"x":34.95,"y":42.75},{"g":"B","o":17,"x":38.9,"y":39.35},{"g":"B","o":18,"x":41,"y":38.85},{"g":"B","o":19,"x":43.6,"y":34.9},{"g":"B","o":20,"x":47,"y":30.5},{"g":"B","o":21,"x":48.05,"y":28.5},{"g":"B","o":22,"x":48.95,"y":26},{"g":"B","o":23,"x":50.9,"y":24.85},{"g":"B","o":24,"x":51.95,"y":21.1},{"g":"B","o":25,"x":52.5,"y":18.9},{"g":"B","o":26,"x":53.8,"y":16.65},{"g":"B","o":27,"x":54.3,"y":14.8},{"g":"B","o":28,"x":54.5,"y":13},{"g":"B","o":29,"x":55,"y":11.15},{"g":"B","o":30,"x":55,"y":8.8},{"g":"B","o":31,"x":55.7,"y":5.9},{"g":"B","o":32,"x":56.2,"y":2},
{"g":"Ba","o":1,"x":2.1,"y":57.55},{"g":"Ba","o":2,"x":2.95,"y":57.4},{"g":"Ba","o":3,"x":3.5,"y":56.9},{"g":"Ba","o":4,"x":2.85,"y":56.1},{"g":"Ba","o":5,"x":2.1,"y":55.3},
{"g":"C","o":1,"x":2.1,"y":45.75},{"g":"C","o":2,"x":2.95,"y":45.3},{"g":"C","o":3,"x":4.95,"y":46.1},{"g":"C","o":4,"x":8.6,"y":45.5},{"g":"C","o":5,"x":10.95,"y":45.5},{"g":"C","o":6,"x":13,"y":44.6},{"g":"C","o":7,"x":15.1,"y":44.2},{"g":"C","o":8,"x":16.95,"y":43.4},{"g":"C","o":9,"x":19,"y":43},{"g":"C","o":10,"x":22.7,"y":40.65},{"g":"C","o":11,"x":25.55,"y":39},{"g":"C","o":12,"x":28.45,"y":36.65},{"g":"C","o":13,"x":32.9,"y":33.2},{"g":"C","o":14,"x":36.55,"y":28.5},{"g":"C","o":15,"x":39.15,"y":25.5},{"g":"C","o":16,"x":40.7,"y":22.1},{"g":"C","o":17,"x":42.55,"y":18.45},{"g":"C","o":18,"x":44.2,"y":14.55},{"g":"C","o":19,"x":45.4,"y":9.6},{"g":"C","o":20,"x":45.95,"y":5.4},{"g":"C","o":21,"x":46.8,"y":2},
{"g":"D","o":1,"x":2.1,"y":40.7},{"g":"D","o":2,"x":6.5,"y":39.9},{"g":"D","o":3,"x":9,"y":40},{"g":"D","o":4,"x":10.95,"y":39.25},{"g":"D","o":5,"x":13,"y":38.85},{"g":"D","o":6,"x":15.4,"y":37.5},{"g":"D","o":7,"x":19,"y":35.8},{"g":"D","o":8,"x":23.2,"y":33.1},{"g":"D","o":9,"x":25.85,"y":31},{"g":"D","o":10,"x":28.2,"y":28.5},{"g":"D","o":11,"x":30.55,"y":26.3},{"g":"D","o":12,"x":33.15,"y":23.4},{"g":"D","o":13,"x":36.3,"y":17.95},{"g":"D","o":14,"x":38.4,"y":13.25},{"g":"D","o":15,"x":39.7,"y":7.5},{"g":"D","o":16,"x":40.05,"y":2},
{"g":"E","o":1,"x":2.1,"y":36.6},{"g":"E","o":2,"x":4.95,"y":35.6},{"g":"E","o":3,"x":8.85,"y":35},{"g":"E","o":4,"x":10.95,"y":34.15},{"g":"E","o":5,"x":14.85,"y":33},{"g":"E","o":6,"x":16.95,"y":31.5},{"g":"E","o":7,"x":18.5,"y":30.6},{"g":"E","o":8,"x":21.1,"y":28.5},{"g":"E","o":9,"x":24.25,"y":25.5},{"g":"E","o":10,"x":27.9,"y":21.6},{"g":"E","o":11,"x":31.05,"y":17.15},{"g":"E","o":12,"x":33.65,"y":11.65},{"g":"E","o":13,"x":34.7,"y":6.45},{"g":"E","o":14,"x":35.1,"y":2},
{"g":"F","o":1,"x":2.1,"y":32.8},{"g":"F","o":2,"x":2.95,"y":32.9},{"g":"F","o":3,"x":4.65,"y":32.2},{"g":"F","o":4,"x":7,"y":32.15},{"g":"F","o":5,"x":9.1,"y":31.25},{"g":"F","o":6,"x":11.7,"y":30.3},{"g":"F","o":7,"x":14.85,"y":28.5},{"g":"F","o":8,"x":18.5,"y":26},{"g":"F","o":9,"x":22.7,"y":22.65},{"g":"F","o":10,"x":26.35,"y":18.75},{"g":"F","o":11,"x":29.5,"y":13.25},{"g":"F","o":12,"x":30.8,"y":7.5},{"g":"F","o":13,"x":31.3,"y":2},
{"g":"G","o":1,"x":2.1,"y":30.1},{"g":"G","o":2,"x":2.95,"y":30},{"g":"G","o":3,"x":7,"y":28.65},{"g":"G","o":4,"x":8.6,"y":28.4},{"g":"G","o":5,"x":12.25,"y":26.3},{"g":"G","o":6,"x":15.4,"y":24.75},{"g":"G","o":7,"x":19,"y":22.1},{"g":"G","o":8,"x":23.2,"y":17.95},{"g":"G","o":9,"x":26.6,"y":12.2},{"g":"G","o":10,"x":28.2,"y":7.5},{"g":"G","o":11,"x":28.2,"y":2},
{"g":"H","o":1,"x":2.1,"y":27.35},{"g":"H","o":2,"x":5.95,"y":26.3},{"g":"H","o":3,"x":10.7,"y":24.75},{"g":"H","o":4,"x":14.85,"y":22.1},{"g":"H","o":5,"x":19,"y":18.2},{"g":"H","o":6,"x":22.7,"y":13.75},{"g":"H","o":7,"x":24.8,"y":8.55},{"g":"H","o":8,"x":25.15,"y":2},
{"g":"I","o":1,"x":2.1,"y":25},{"g":"I","o":2,"x":4.95,"y":23.95},{"g":"I","o":3,"x":7.55,"y":23.7},{"g":"I","o":4,"x":11.7,"y":21.35},{"g":"I","o":5,"x":15.9,"y":18.2},{"g":"I","o":6,"x":19,"y":14.8},{"g":"I","o":7,"x":21.1,"y":9.6},{"g":"I","o":8,"x":22.3,"y":2},
{"g":"J","o":1,"x":2.1,"y":21.75},{"g":"J","o":2,"x":4.95,"y":21.6},{"g":"J","o":3,"x":7.55,"y":20.8},{"g":"J","o":4,"x":12.5,"y":17.4},{"g":"J","o":5,"x":13.8,"y":15.3},{"g":"J","o":6,"x":15,"y":12.9},{"g":"J","o":7,"x":13,"y":11.8},{"g":"J","o":8,"x":10.15,"y":13},{"g":"J","o":9,"x":4.95,"y":15.1},{"g":"J","o":10,"x":3.35,"y":15.35},{"g":"J","o":11,"x":2.1,"y":15.05},
{"g":"Ja","o":1,"x":2.6,"y":17.1},{"g":"Ja","o":2,"x":3.1,"y":17.3},{"g":"Ja","o":3,"x":3.5,"y":17.1},{"g":"Ja","o":4,"x":3,"y":16.9},{"g":"Ja","o":5,"x":2.6,"y":17.1},
{"g":"K1","o":1,"x":2.1,"y":13.5},{"g":"K1","o":2,"x":4.4,"y":13.4},{"g":"K1","o":3,"x":7,"y":12.2},{"g":"K1","o":4,"x":10.15,"y":10.9},{"g":"K1","o":5,"x":11.7,"y":8.8},{"g":"K1","o":6,"x":14.35,"y":7.5},{"g":"K1","o":7,"x":15.4,"y":5.4},{"g":"K1","o":8,"x":16.4,"y":2},
{"g":"K2","o":1,"x":2.1,"y":12},{"g":"K2","o":2,"x":4.95,"y":11.15},{"g":"K2","o":3,"x":7.55,"y":10.1},{"g":"K2","o":4,"x":10.15,"y":8},{"g":"K2","o":5,"x":12.5,"y":5.4},{"g":"K2","o":6,"x":14.2,"y":2},
{"g":"K3","o":1,"x":2.1,"y":10.6},{"g":"K3","o":2,"x":4.4,"y":10.1},{"g":"K3","o":3,"x":7,"y":8.8},{"g":"K3","o":4,"x":9.9,"y":5.9},{"g":"K3","o":5,"x":12.2,"y":2},
{"g":"K4","o":1,"x":2.1,"y":9.15},{"g":"K4","o":2,"x":4.4,"y":8.8},{"g":"K4","o":3,"x":6.75,"y":7.75},{"g":"K4","o":4,"x":8.85,"y":4.9},{"g":"K4","o":5,"x":10.2,"y":2},
{"g":"K5","o":1,"x":2.1,"y":7.5},{"g":"K5","o":2,"x":4.4,"y":7},{"g":"K5","o":3,"x":6.75,"y":5.4},{"g":"K5","o":4,"x":8.4,"y":2},
{"g":"K6","o":1,"x":2.1,"y":5.4},{"g":"K6","o":2,"x":4.15,"y":3.85},{"g":"K6","o":3,"x":6.1,"y":2},
{"g":"K7","o":1,"x":2.1,"y":4.35},{"g":"K7","o":2,"x":3.35,"y":3.3},{"g":"K7","o":3,"x":4.5,"y":2},
{"g":"K8","o":1,"x":2.1,"y":3.3},{"g":"K8","o":2,"x":3.1,"y":2}
]},"mark":{"type":"line","color":"#000000","strokeWidth":2,"clip":true},"encoding":{"x":{"field":"x","type":"quantitative","axis":{"orient":"top","values":[10,20,30,40,50,60],"labels":false,"title":null}},"y":{"field":"y","type":"quantitative","axis":{"orient":"right","values":[10,20,30,40,50,60],"labels":false,"title":null}},"detail":{"field":"g"},"order":{"field":"o","type":"quantitative"}}},
{"data":{"values":[{"x":49.9,"y":54.7,"t":"rxr−space"}]},"mark":{"type":"text","fontSize":30,"font":"Liberation Sans","color":"#000000"},"encoding":{"x":{"field":"x","type":"quantitative","axis":null},"y":{"field":"y","type":"quantitative","axis":null},"text":{"field":"t"}}}
],"resolve":{"axis":{"x":"independent","y":"independent"}}}
],"spacing":238,"bounds":"flush","center":true,"config":{"font":"Liberation Sans","view":{"stroke":"#333333","strokeWidth":2,"fill":null},"axis":{"grid":false,"domain":false,"ticks":true,"tickColor":"#333333","tickWidth":1.6,"tickSize":10,"labelFont":"Liberation Sans","labelFontSize":17,"labelColor":"#4d4d4d","labelPadding":5,"titleFont":"Liberation Sans","titleFontSize":21,"titleFontWeight":"normal","titleColor":"#000000"}}}
